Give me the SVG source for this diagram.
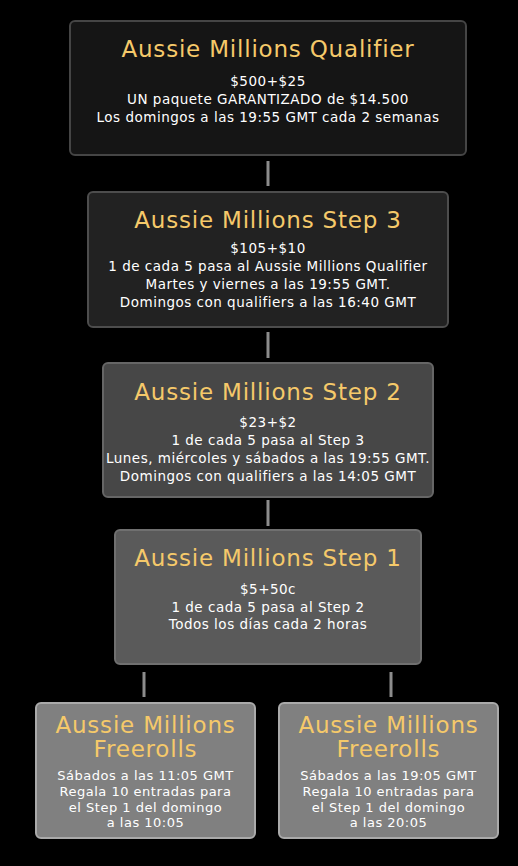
<svg xmlns="http://www.w3.org/2000/svg" width="518" height="866" viewBox="0 0 518 866">
<style>
.t{font-family:"DejaVu Sans",sans-serif;font-size:23px;fill:#f5c96a;text-anchor:middle;letter-spacing:0.8px}
.d{font-family:"DejaVu Sans",sans-serif;font-size:13.5px;fill:#ffffff;text-anchor:middle;letter-spacing:0.5px}
.f{font-size:13px}
.c{stroke:#8c8c8c;stroke-width:3;fill:none}
</style>
<rect width="518" height="866" fill="#000"/>
<g id="connectors">
<line class="c" x1="268" y1="161" x2="268" y2="186"/>
<line class="c" x1="268" y1="332" x2="268" y2="358"/>
<line class="c" x1="268" y1="500" x2="268" y2="526"/>
<line class="c" x1="144" y1="672" x2="144" y2="697"/>
<line class="c" x1="391" y1="672" x2="391" y2="697"/>
</g>
<g id="qualifier">
<rect x="70" y="21" width="396" height="134" rx="5" fill="#151515" stroke="#454545" stroke-width="2"/>
<text class="t" x="268" y="57">Aussie Millions Qualifier</text>
<text class="d" x="268" y="86">$500+$25</text>
<text class="d" x="268" y="104">UN paquete GARANTIZADO de $14.500</text>
<text class="d" x="268" y="122">Los domingos a las 19:55 GMT cada 2 semanas</text>
</g>
<g id="step3">
<rect x="88" y="192" width="360" height="135" rx="5" fill="#222222" stroke="#4d4d4d" stroke-width="2"/>
<text class="t" x="268" y="228">Aussie Millions Step 3</text>
<text class="d" x="268" y="253">$105+$10</text>
<text class="d" x="268" y="271">1 de cada 5 pasa al Aussie Millions Qualifier</text>
<text class="d" x="268" y="289">Martes y viernes a las 19:55 GMT.</text>
<text class="d" x="268" y="307">Domingos con qualifiers a las 16:40 GMT</text>
</g>
<g id="step2">
<rect x="103" y="363" width="330" height="134" rx="5" fill="#474747" stroke="#666666" stroke-width="2"/>
<text class="t" x="268" y="400">Aussie Millions Step 2</text>
<text class="d" x="268" y="427">$23+$2</text>
<text class="d" x="268" y="445">1 de cada 5 pasa al Step 3</text>
<text class="d" x="268" y="463">Lunes, miércoles y sábados a las 19:55 GMT.</text>
<text class="d" x="268" y="481">Domingos con qualifiers a las 14:05 GMT</text>
</g>
<g id="step1">
<rect x="115" y="530" width="306" height="134" rx="5" fill="#5a5a5a" stroke="#707070" stroke-width="2"/>
<text class="t" x="268" y="566">Aussie Millions Step 1</text>
<text class="d" x="268" y="594">$5+50c</text>
<text class="d" x="268" y="612">1 de cada 5 pasa al Step 2</text>
<text class="d" x="268" y="629">Todos los días cada 2 horas</text>
</g>
<g id="freeroll1">
<rect x="36" y="703" width="219" height="135" rx="5" fill="#808080" stroke="#aaaaaa" stroke-width="2"/>
<text class="t" x="145.5" y="733">Aussie Millions</text>
<text class="t" x="145.5" y="757">Freerolls</text>
<text class="d f" x="145.5" y="780">Sábados a las 11:05 GMT</text>
<text class="d f" x="145.5" y="796">Regala 10 entradas para</text>
<text class="d f" x="145.5" y="812">el Step 1 del domingo</text>
<text class="d f" x="145.5" y="827">a las 10:05</text>
</g>
<g id="freeroll2">
<rect x="279" y="703" width="219" height="135" rx="5" fill="#808080" stroke="#aaaaaa" stroke-width="2"/>
<text class="t" x="388.5" y="733">Aussie Millions</text>
<text class="t" x="388.5" y="757">Freerolls</text>
<text class="d f" x="388.5" y="780">Sábados a las 19:05 GMT</text>
<text class="d f" x="388.5" y="796">Regala 10 entradas para</text>
<text class="d f" x="388.5" y="812">el Step 1 del domingo</text>
<text class="d f" x="388.5" y="827">a las 20:05</text>
</g>
</svg>
